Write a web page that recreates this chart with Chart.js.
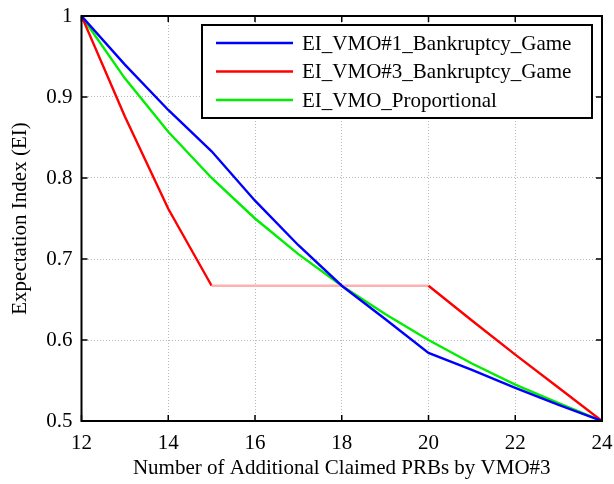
<!DOCTYPE html>
<html>
<head>
<meta charset="utf-8">
<script src="https://cdn.jsdelivr.net/npm/chart.js"></script>
<style>
  html, body { margin: 0; padding: 0; background: #fff; }
  #wrap { width: 614px; height: 484px; position: relative; }
</style>
</head>
<body>
<div id="wrap"><canvas id="chart"></canvas></div>
<script>
const claimedPRBs = [12, 13, 14, 15, 16, 17, 18, 19, 20, 21, 22, 23, 24];
const vmo1Bankruptcy = [1, 0.94, 0.884, 0.833, 0.772, 0.717, 0.667, 0.626, 0.584, 0.563, 0.541, 0.52, 0.5];
const vmo3Bankruptcy = [1, 0.876, 0.762, 0.667, 0.667, 0.667, 0.667, 0.667, 0.667, 0.624, 0.582, 0.541, 0.5];
const vmoProportional = [1, 0.923, 0.857, 0.8, 0.75, 0.706, 0.667, 0.632, 0.6, 0.571, 0.545, 0.522, 0.5];
const seriesNames = ["EI_VMO#1_Bankruptcy_Game", "EI_VMO#3_Bankruptcy_Game", "EI_VMO_Proportional"];
const seriesColors = ["#0000ff", "#ff0000", "#00ee00"];
const xTicks = [12, 14, 16, 18, 20, 22, 24];
const yTicks = [0.5, 0.6, 0.7, 0.8, 0.9, 1];

const FONT = "'Liberation Serif', 'Times New Roman', serif";

const toPoints = (ys) => claimedPRBs.map((x, i) => ({ x, y: ys[i] }));

// MATLAB-style inward tick marks on all four sides + boxed legend
const matlabFrame = {
  id: "matlabFrame",
  afterDatasetsDraw(chart) {
    const { ctx, chartArea: a, scales } = chart;
    ctx.save();
    ctx.strokeStyle = "#000";
    ctx.lineWidth = 1.5;
    ctx.beginPath();
    xTicks.forEach((v) => {
      const px = scales.x.getPixelForValue(v);
      ctx.moveTo(px, a.bottom); ctx.lineTo(px, a.bottom - 6);
      ctx.moveTo(px, a.top); ctx.lineTo(px, a.top + 6);
    });
    yTicks.forEach((v) => {
      const py = scales.y.getPixelForValue(v);
      ctx.moveTo(a.left, py); ctx.lineTo(a.left + 6, py);
      ctx.moveTo(a.right, py); ctx.lineTo(a.right - 6, py);
    });
    ctx.stroke();
    ctx.lineWidth = 2;
    ctx.strokeRect(a.left, a.top, a.right - a.left, a.bottom - a.top);

    // legend box
    const bx = 202, by = 25, bw = 390, bh = 93;
    ctx.fillStyle = "#fff";
    ctx.fillRect(bx, by, bw, bh);
    ctx.lineWidth = 2;
    ctx.strokeRect(bx, by, bw, bh);
    ctx.font = "21px " + FONT;
    ctx.textBaseline = "middle";
    seriesNames.forEach((name, i) => {
      const y = 43 + i * 28.5;
      ctx.strokeStyle = seriesColors[i];
      ctx.lineWidth = 2.4;
      ctx.beginPath();
      ctx.moveTo(216, y); ctx.lineTo(293, y);
      ctx.stroke();
      ctx.fillStyle = "#000";
      ctx.fillText(name, 302, y + 1);
    });
    ctx.restore();
  },
};

new Chart(document.getElementById("chart"), {
  type: "line",
  data: {
    datasets: [
      {
        label: seriesNames[0],
        data: toPoints(vmo1Bankruptcy),
        borderColor: seriesColors[0],
      },
      {
        label: seriesNames[1],
        data: toPoints(vmo3Bankruptcy),
        borderColor: seriesColors[1],
        segment: {
          // the flat stretch shows up as a faint line
          borderColor: (c) => (c.p0.parsed.y === c.p1.parsed.y ? "#ffb0b0" : undefined),
        },
      },
      {
        label: seriesNames[2],
        data: toPoints(vmoProportional),
        borderColor: seriesColors[2],
      },
    ],
  },
  plugins: [matlabFrame],
  options: {
    responsive: true,
    maintainAspectRatio: false,
    animation: false,
    layout: { padding: { top: 16, right: 12, left: 0, bottom: 0 } },
    elements: {
      point: { radius: 0 },
      line: { borderWidth: 2.4, tension: 0 },
    },
    plugins: {
      legend: { display: false },
      tooltip: { enabled: false },
    },
    scales: {
      x: {
        type: "linear",
        min: 12,
        max: 24,
        afterBuildTicks: (s) => { s.ticks = xTicks.map((v) => ({ value: v })); },
        afterFit: (s) => {
          s.height = 63;
          s.paddingLeft = 0;
          s.paddingRight = 0;
        },
        grid: {
          color: "#b8b8b8",
          lineWidth: 1,
          drawTicks: false,
        },
        border: { display: false, dash: [1, 2] },
        ticks: {
          color: "#000",
          font: { family: FONT, size: 21 },
          padding: 10,
          maxRotation: 0,
        },
        title: {
          display: true,
          text: "Number of Additional Claimed PRBs by VMO#3",
          color: "#000",
          font: { family: FONT, size: 21 },
          padding: { top: 0, bottom: 3 },
        },
      },
      y: {
        type: "linear",
        min: 0.5,
        max: 1,
        afterBuildTicks: (s) => { s.ticks = yTicks.map((v) => ({ value: v })); },
        afterFit: (s) => {
          s.width = 81.5;
          s.paddingTop = 0;
          s.paddingBottom = 0;
        },
        grid: {
          color: "#b8b8b8",
          lineWidth: 1,
          drawTicks: false,
        },
        border: { display: false, dash: [1, 2] },
        ticks: {
          color: "#000",
          font: { family: FONT, size: 21 },
          padding: 9,
          callback: (v) => String(Math.round(v * 10) / 10),
        },
        title: {
          display: true,
          text: "Expectation Index (EI)",
          color: "#000",
          font: { family: FONT, size: 21 },
          padding: { top: 8, bottom: 0 },
        },
      },
    },
  },
});
</script>
</body>
</html>
